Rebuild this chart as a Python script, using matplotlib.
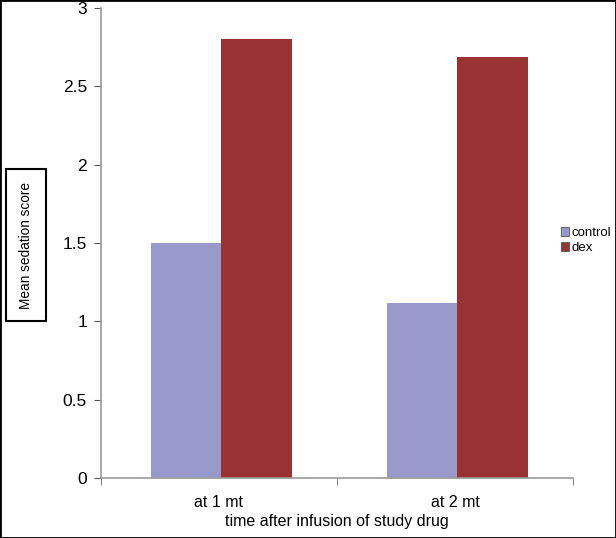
import numpy as np
import matplotlib
matplotlib.use("Agg")
import matplotlib.pyplot as plt
from matplotlib.patches import Rectangle

plt.rcParams['font.family'] = ['Liberation Sans', 'DejaVu Sans']

categories = ["at 1 mt", "at 2 mt"]
control = [1.5, 1.12]
dex = [2.8, 2.69]

fig = plt.figure(figsize=(6.16, 5.38), dpi=100)
ax = fig.add_axes([101 / 616, 1 - 478 / 538, 472 / 616, 470 / 538])

x = np.arange(len(categories))
w = 0.3
ax.bar(x - 0.14, control, w, color="#9999cc", label="control")
ax.bar(x + 0.16, dex, w, color="#993333", label="dex")

ax.set_xlim(-0.5, len(categories) - 0.5)
ax.set_ylim(0, 3)
ax.set_yticks([0, 0.5, 1, 1.5, 2, 2.5, 3])
ax.set_yticklabels(["0", "0.5", "1", "1.5", "2", "2.5", "3"])
ax.set_xticks(np.arange(len(categories) + 1) - 0.5)
ax.set_xticklabels([])
ax.set_xticks(x, minor=True)
ax.set_xticklabels(categories, minor=True)
ax.tick_params(axis="x", which="minor", length=0, labelsize=11.5, pad=12)
ax.tick_params(axis="x", which="major", length=5, color="#888888", direction="out")
ax.tick_params(axis="y", length=5, color="#555555", labelsize=12.5, pad=5)

for s in ["top", "right"]:
    ax.spines[s].set_visible(False)
for s in ["left", "bottom"]:
    ax.spines[s].set_color("#999999")
    ax.spines[s].set_linewidth(1.2)

ax.set_xlabel("time after infusion of study drug", fontsize=11.5, labelpad=3)

fig.text(26 / 616, 1 - 245 / 538, "Mean sedation score", rotation=90,
         ha="center", va="center", fontsize=9.8,
         bbox=dict(boxstyle="square,pad=0.95", fc="white", ec="black", lw=1.5))

leg = ax.legend(loc="center left", bbox_to_anchor=(0.975, 0.505), frameon=False,
                fontsize=9.5, handlelength=0.6, handleheight=0.6, handletextpad=0.2,
                labelspacing=0.2, borderpad=0, borderaxespad=0)
for h in leg.legend_handles:
    h.set_edgecolor("#555555")
    h.set_linewidth(0.6)

fig.patches.append(Rectangle((0, 0), 1, 1, transform=fig.transFigure,
                             fill=False, ec="black", lw=2))

fig.savefig("out.png", dpi=100)
